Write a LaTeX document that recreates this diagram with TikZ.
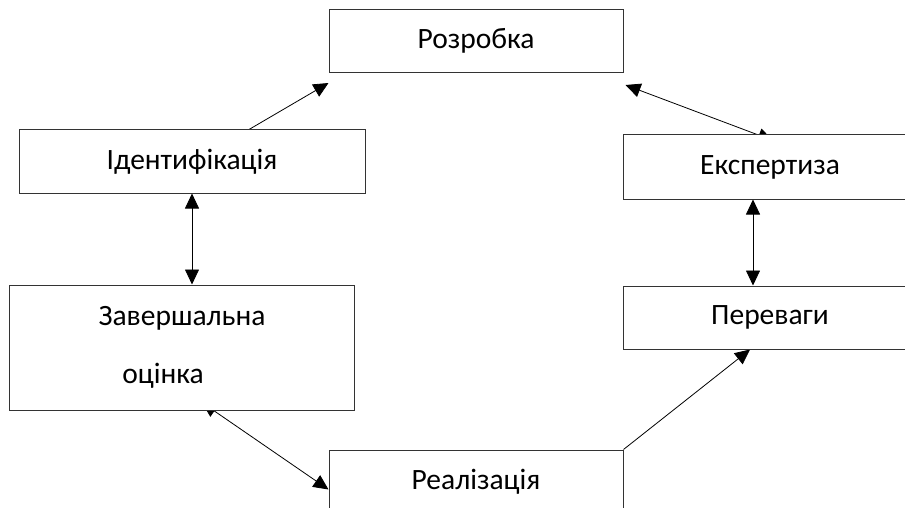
\documentclass[tikz,border=0pt]{standalone}
\usepackage{fontspec}
\setmainfont{Carlito}
\usetikzlibrary{arrows.meta, backgrounds}

\begin{document}
\begin{tikzpicture}[
            x=1pt, y=-1pt,
            stage/.style={draw=black!80, fill=white, line width=1pt, minimum width=294pt, minimum height=63pt, inner sep=0pt, font=\fontsize{29.5}{35}\selectfont}, % Box for every stage
            link/.style={line width=0.8pt, -{Triangle[length=15pt, width=14pt]}}, % One-way arrow
            both/.style={line width=0.8pt, {Triangle[length=15pt, width=14pt]}-{Triangle[length=15pt, width=14pt]}} % Two-way arrow
            ]
        \clip (0,0) rectangle (905,508);

        % Stages of the cycle
        \node[stage] (rozrobka) at (476,41) {Розробка};
        \node[stage, minimum width=346pt] (identyf) at (192,161.5) {Ідентифікація};
        \node[stage, minimum height=64pt] (ekspert) at (770,167) {Експертиза};
        \node[stage, minimum width=345pt, minimum height=125pt, align=center] (zaversh) at (182,347.5) {Завершальна\\[23pt]оцінка\hspace*{38pt}};
        \node[stage] (perevagy) at (770,317.5) {Переваги};
        \node[stage] (realiz) at (476,481.5) {Реалізація};

        % Arrows go behind the boxes
        \begin{scope}[on background layer]
            \draw[link] ([xshift=57pt]identyf.north) -- ([yshift=-10pt]rozrobka.south west);
            \draw[both] ([xshift=2pt, yshift=-12pt]rozrobka.south east) -- ([xshift=3pt, yshift=-6pt]ekspert.north);
            \draw[both] (identyf.south) -- (identyf.south |- zaversh.north);
            \draw[both] ([xshift=-17pt]ekspert.south) -- ([xshift=-17pt]perevagy.north);
            \draw[both] ([xshift=20pt, yshift=8pt]zaversh.south) -- ([yshift=-8pt]realiz.west);
            \draw[link] (realiz.north east) -- ([xshift=-20pt]perevagy.south);
        \end{scope}

\end{tikzpicture}
\end{document}
